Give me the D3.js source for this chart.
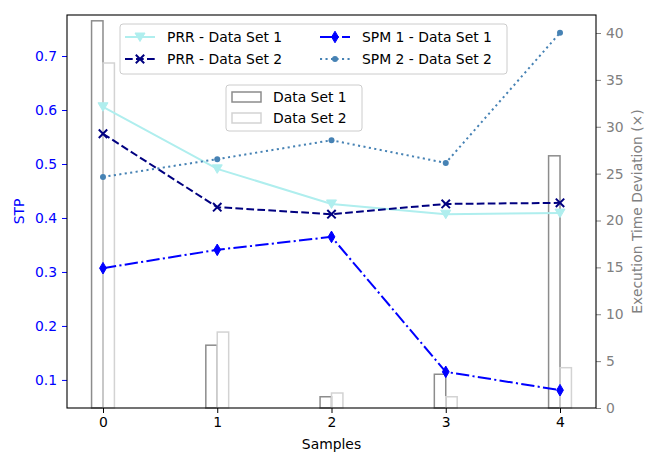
<!DOCTYPE html>
<html>
<head>
<meta charset="utf-8">
<script src="https://cdn.jsdelivr.net/npm/d3@7"></script>
<style>
  html, body { margin: 0; padding: 0; background: #fff; }
  svg text { font-family: "DejaVu Sans", sans-serif; }
</style>
</head>
<body>
<svg id="chart" width="646" height="453"></svg>
<script>
// Sample indices along the x axis
const samples = [0, 1, 2, 3, 4];
const xTickLabels = ["0", "1", "2", "3", "4"];

// STP series (left axis)
const prrSet1 = [0.606, 0.491, 0.426, 0.407, 0.409];
const prrSet2 = [0.556, 0.420, 0.407, 0.426, 0.428];
const spm1Set1 = [0.307, 0.341, 0.365, 0.115, 0.081];
const spm2Set2 = [0.476, 0.509, 0.544, 0.502, 0.743];

// Execution time deviation bars (right axis)
const devSet1 = [41.3, 6.7, 1.2, 3.6, 26.9];
const devSet2 = [36.8, 8.1, 1.6, 1.2, 4.3];

const leftTicks = [0.1, 0.2, 0.3, 0.4, 0.5, 0.6, 0.7];
const rightTicks = [0, 5, 10, 15, 20, 25, 30, 35, 40];

const svg = d3.select("#chart");
const plot = { left: 67, right: 596, top: 15, bottom: 408 };
const FS = 13.9;

const x = d3.scaleLinear().domain([-0.315, 4.315]).range([plot.left, plot.right]);
const yL = d3.scaleLinear().domain([0.048, 0.776]).range([plot.bottom, plot.top]);
const yR = d3.scaleLinear().domain([0, 41.92]).range([plot.bottom, plot.top]);

const barW = 0.1;

// Bars: outlined, no fill
const bars = svg.append("g");
bars.selectAll("rect.s1").data(samples).join("rect")
  .attr("x", d => x(d - barW)).attr("width", d => x(d) - x(d - barW))
  .attr("y", (d, i) => yR(devSet1[i])).attr("height", (d, i) => yR(0) - yR(devSet1[i]))
  .attr("fill", "none").attr("stroke", "#8c8c8c").attr("stroke-width", 1.5);
bars.selectAll("rect.s2").data(samples).join("rect")
  .attr("x", d => x(d)).attr("width", d => x(d + barW) - x(d))
  .attr("y", (d, i) => yR(devSet2[i])).attr("height", (d, i) => yR(0) - yR(devSet2[i]))
  .attr("fill", "none").attr("stroke", "#d3d3d3").attr("stroke-width", 1.5);

// Marker drawing helpers
function marker(g, type, color, cx, cy) {
  if (type === "tri") {
    const s = 5;
    g.append("path").attr("d", `M${cx - s},${cy - s * 0.8}L${cx + s},${cy - s * 0.8}L${cx},${cy + s * 0.9}Z`)
      .attr("fill", color).attr("stroke", color).attr("stroke-width", 1);
  } else if (type === "x") {
    const s = 4.2;
    g.append("path").attr("d", `M${cx - s},${cy - s}L${cx + s},${cy + s}M${cx - s},${cy + s}L${cx + s},${cy - s}`)
      .attr("stroke", color).attr("stroke-width", 2).attr("fill", "none");
  } else if (type === "d") {
    const w = 3.4, h = 5.8;
    g.append("path").attr("d", `M${cx},${cy - h}L${cx + w},${cy}L${cx},${cy + h}L${cx - w},${cy}Z`)
      .attr("fill", color).attr("stroke", color).attr("stroke-width", 1);
  } else if (type === "dot") {
    g.append("circle").attr("cx", cx).attr("cy", cy).attr("r", 3).attr("fill", color);
  }
}

const series = [
  { name: "PRR - Data Set 1", values: prrSet1, color: "#afeeee", dash: null, mk: "tri" },
  { name: "PRR - Data Set 2", values: prrSet2, color: "#000080", dash: "7.7,3.3", mk: "x" },
  { name: "SPM 1 - Data Set 1", values: spm1Set1, color: "#0000ff", dash: "13.3,3.3,2.1,3.3", mk: "d" },
  { name: "SPM 2 - Data Set 2", values: spm2Set2, color: "#4682b4", dash: "2.1,3.4", mk: "dot" }
];

const line = d3.line().x((d, i) => x(samples[i])).y(d => yL(d));
const lines = svg.append("g");
series.forEach(s => {
  lines.append("path").datum(s.values).attr("d", line)
    .attr("fill", "none").attr("stroke", s.color).attr("stroke-width", 2)
    .attr("stroke-dasharray", s.dash);
  const mg = lines.append("g");
  s.values.forEach((v, i) => marker(mg, s.mk, s.color, x(samples[i]), yL(v)));
});

// Axes
const xAxis = d3.axisBottom(x).tickValues(samples).tickFormat((d, i) => xTickLabels[i]).tickSize(5).tickPadding(4);
const gx = svg.append("g").attr("transform", `translate(0,${plot.bottom})`).call(xAxis);
gx.select(".domain").remove();
gx.selectAll("line").attr("stroke", "#000").attr("stroke-width", 1);
gx.selectAll("text").attr("font-size", FS).attr("fill", "#000");

const yLAxis = d3.axisLeft(yL).tickValues(leftTicks).tickFormat(d3.format(".1f")).tickSize(5).tickPadding(5);
const gyl = svg.append("g").attr("transform", `translate(${plot.left},0)`).call(yLAxis);
gyl.select(".domain").remove();
gyl.selectAll("line").attr("stroke", "#0000ff").attr("stroke-width", 1);
gyl.selectAll("text").attr("font-size", FS).attr("fill", "#0000ff");

const yRAxis = d3.axisRight(yR).tickValues(rightTicks).tickSize(5).tickPadding(5);
const gyr = svg.append("g").attr("transform", `translate(${plot.right},0)`).call(yRAxis);
gyr.select(".domain").remove();
gyr.selectAll("line").attr("stroke", "#808080").attr("stroke-width", 1);
gyr.selectAll("text").attr("font-size", FS).attr("fill", "#808080");

// Frame
svg.append("rect").attr("x", plot.left).attr("y", plot.top)
  .attr("width", plot.right - plot.left).attr("height", plot.bottom - plot.top)
  .attr("fill", "none").attr("stroke", "#000").attr("stroke-width", 1.1);

// Axis titles
svg.append("text").attr("x", (plot.left + plot.right) / 2).attr("y", 449)
  .attr("text-anchor", "middle").attr("font-size", FS).text("Samples");
svg.append("text").attr("transform", `translate(24,${(plot.top + plot.bottom) / 2}) rotate(-90)`)
  .attr("text-anchor", "middle").attr("font-size", FS).attr("fill", "#0000ff").text("STP");
svg.append("text").attr("transform", `translate(642,${(plot.top + plot.bottom) / 2}) rotate(-90)`)
  .attr("text-anchor", "middle").attr("font-size", FS).attr("fill", "#808080")
  .text("Execution Time Deviation (\u00d7)");

// Legend for line series (two columns)
const lg = svg.append("g");
lg.append("rect").attr("x", 120).attr("y", 24).attr("width", 387).attr("height", 50).attr("rx", 3)
  .attr("fill", "#fff").attr("fill-opacity", 0.8).attr("stroke", "#cccccc");
const legPos = [[125, 37], [125, 59], [320, 37], [320, 59]];
series.forEach((s, i) => {
  const [lx, ly] = legPos[i];
  lg.append("line").attr("x1", lx).attr("x2", lx + 30).attr("y1", ly).attr("y2", ly)
    .attr("stroke", s.color).attr("stroke-width", 2).attr("stroke-dasharray", s.dash);
  marker(lg, s.mk, s.color, lx + 15, ly);
  lg.append("text").attr("x", lx + 42).attr("y", ly + 5).attr("font-size", FS).text(s.name);
});

// Legend for bar series
const bl = svg.append("g");
bl.append("rect").attr("x", 226).attr("y", 85).attr("width", 136).attr("height", 46).attr("rx", 3)
  .attr("fill", "#fff").attr("fill-opacity", 0.8).attr("stroke", "#cccccc");
[["Data Set 1", "#8c8c8c", 97], ["Data Set 2", "#d3d3d3", 118]].forEach(([label, col, ly]) => {
  bl.append("rect").attr("x", 232).attr("y", ly - 5).attr("width", 29).attr("height", 10)
    .attr("fill", "none").attr("stroke", col).attr("stroke-width", 1.5);
  bl.append("text").attr("x", 273).attr("y", ly + 5).attr("font-size", FS).text(label);
});
</script>
</body>
</html>
